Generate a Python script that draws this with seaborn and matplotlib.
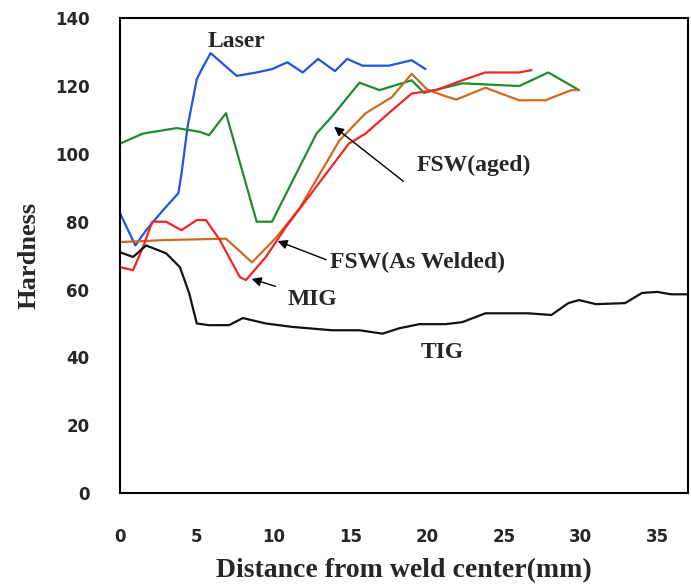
import pandas as pd
import seaborn as sns
import matplotlib.pyplot as plt

## hardness profiles (distance in mm, hardness)
laser_x = [0, 1.0, 1.7, 2.8, 3.8, 4.0, 4.4, 5.0, 5.4, 5.9, 7.6, 8.9, 9.9, 10.9, 11.9, 12.9, 14.0, 14.8, 15.8, 17.5, 19.0, 19.9]
laser_y = [82.5, 73, 77.5, 83.4, 88.4, 94, 108, 122, 125.6, 129.7, 123, 124, 125, 127, 124, 128, 124.4, 128, 126, 126, 127.6, 125]

aged_x = [0, 1.5, 3.7, 5.2, 5.8, 6.9, 8.9, 9.9, 11.2, 12.8, 13.8, 15.6, 16.9, 19.0, 19.8, 22.3, 26.0, 27.9, 29.9]
aged_y = [103, 106, 107.6, 106.5, 105.5, 112, 80, 80, 91.7, 106, 111, 121, 118.8, 121.7, 118, 120.8, 120, 124, 118.8]

welded_x = [0, 3.0, 6.9, 8.6, 10.2, 11.7, 14.3, 16.0, 17.7, 19.0, 20.0, 21.2, 21.9, 23.8, 26.0, 27.7, 29.4, 29.9]
welded_y = [74, 74.6, 75, 68, 75.5, 84, 104, 112, 116.7, 123.6, 119, 117, 116, 119.5, 115.8, 115.8, 118.8, 118.8]

mig_x = [0, 0.85, 1.5, 2.1, 3.0, 4.0, 5.0, 5.6, 6.5, 7.8, 8.2, 9.5, 10.8, 14.9, 16.0, 17.5, 19.0, 20.6, 22.3, 23.8, 26.0, 26.8]
mig_y = [66.6, 65.7, 72.6, 80, 80, 77.5, 80.5, 80.5, 74.6, 63.7, 62.8, 69.6, 78.4, 103, 106, 112, 117.8, 118.8, 121.7, 124, 124, 124.7]

tig_x = [0, 0.85, 1.7, 3.0, 3.9, 4.5, 5.0, 5.8, 7.1, 8.0, 9.5, 11.2, 13.8, 15.6, 17.1, 18.2, 19.5, 21.2, 22.3, 23.8, 26.6, 28.1, 29.2, 29.9, 31.0, 32.9, 34.0, 35.0, 35.9, 37.0]
tig_y = [71, 69.6, 73, 70.7, 66.6, 59, 50, 49.5, 49.5, 51.6, 50, 49, 48, 48, 47, 48.6, 49.8, 49.8, 50.4, 53, 53, 52.5, 56, 56.9, 55.7, 56, 59, 59.3, 58.6, 58.6]

x_ticks = [0, 5, 10, 15, 20, 25, 30, 35]
y_ticks = [0, 20, 40, 60, 80, 100, 120, 140]

series = [("Laser", laser_x, laser_y, "#1f55e0"),
          ("FSW(aged)", aged_x, aged_y, "#1f8c2c"),
          ("FSW(As Welded)", welded_x, welded_y, "#cc6a22"),
          ("MIG", mig_x, mig_y, "#f22424"),
          ("TIG", tig_x, tig_y, "#111111")]

sns.set_style("white")

fig = plt.figure(figsize=(6.91, 5.87), dpi=100)
ax = fig.add_axes([0.1737, 0.160, 0.822, 0.809])

for name, xs, ys, col in series:
    df = pd.DataFrame({"x": xs, "y": ys})
    sns.lineplot(data=df, x="x", y="y", ax=ax, color=col, linewidth=1.6,
                 sort=False, estimator=None)

ax.set_xlim(0, 37)
ax.set_ylim(0, 140)
ax.set_xticks(x_ticks)
ax.set_yticks(y_ticks)
ax.tick_params(direction="in", length=6, width=1.2, color="black")
ax.tick_params(axis="y", pad=22)
ax.tick_params(axis="x", pad=25)
for lab in ax.get_xticklabels() + ax.get_yticklabels():
    lab.set_fontweight("bold")
    lab.set_fontsize(12)
    lab.set_family("DejaVu Sans")
for s in ax.spines.values():
    s.set_color("black")
    s.set_linewidth(1.5)

ax.set_xlabel("Distance from weld center(mm)", family="Liberation Serif",
              fontweight="bold", fontsize=20, labelpad=9)
ax.set_ylabel("Hardness", family="Liberation Serif", fontweight="bold",
              fontsize=19, labelpad=10)

## labels and arrows on the curves
tfont = dict(family="Liberation Serif", fontweight="bold", fontsize=17)
ax.text(5.7, 133, "Laser", ha="left", va="center", **tfont)
ax.text(19.3, 96.5, "FSW(aged)", ha="left", va="center", **tfont)
ax.annotate("", xy=(13.8, 108.5), xytext=(18.6, 91.4),
            arrowprops=dict(arrowstyle="-|>", color="black", lw=1.0, mutation_scale=14))
ax.text(13.7, 68, "FSW(As Welded)", ha="left", va="center", **tfont)
ax.annotate("", xy=(10.1, 74.6), xytext=(13.6, 68.5),
            arrowprops=dict(arrowstyle="-|>", color="black", lw=1.0, mutation_scale=14))
ax.text(10.9, 57, "MIG", ha="left", va="center", **tfont)
ax.annotate("", xy=(8.4, 63.4), xytext=(10.3, 60.7),
            arrowprops=dict(arrowstyle="-|>", color="black", lw=1.0, mutation_scale=14))
ax.text(19.6, 41.5, "TIG", ha="left", va="center", **tfont)

fig.savefig("out.png", dpi=100)
